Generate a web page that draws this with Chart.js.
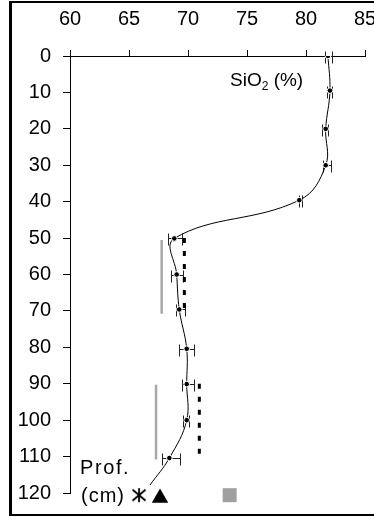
<!DOCTYPE html>
<html>
<head>
<meta charset="utf-8">
<script src="https://cdn.jsdelivr.net/npm/chart.js@4/dist/chart.umd.min.js"></script>
<style>
  html, body { margin: 0; padding: 0; background: #fff; overflow: hidden; }
  #wrap { position: relative; width: 374px; height: 517px; overflow: hidden; }
  #frame { position: absolute; left: 9px; top: 1px; width: 420px; height: 515px; box-sizing: border-box; border: 2px solid #000; border-left-width: 3px; }
  #chart { position: absolute; left: 0; top: 0; }
</style>
</head>
<body>
<div id="wrap">
  <div id="frame"></div>
  <canvas id="chart" width="400" height="517"></canvas>
</div>
<script>
// 剖面数据：深度 (cm) 与 SiO2 (%)
const depths = [0, 9.5, 20, 30, 39.6, 50.1, 60, 69.6, 80.4, 90.1, 100, 110.4];
const sio2 = [81.86, 82.03, 81.67, 81.67, 79.43, 68.84, 69.04, 69.26, 69.89, 69.89, 69.89, 68.42];
const errLow = [81.61, 81.81, 81.38, 81.47, 79.41, 68.33, 68.53, 68.98, 69.24, 69.47, 69.6, 67.77];
const errHigh = [82.17, 82.18, 81.84, 82.12, 79.69, 69.47, 69.6, 69.75, 70.53, 70.53, 70.1, 69.32];

// 曲线尾端
const tailX = [66.78];
const tailDepth = [117.8];

// 灰色竖线
const greyX = [67.77, 67.29];
const greyTop = [50.5, 90.3];
const greyBottom = [70.8, 110.8];

// 黑色虚线
const dashX = [69.69, 70.96];
const dashTop = [50, 90];
const dashBottom = [70, 109.5];

// 底部图例符号
const markerX = [65.85, 67.63, 73.53];
const markerDepth = [120.6, 121.4, 120.6];

// 刻度
const xTicks = [60, 65, 70, 75, 80, 85];
const yTicks = [0, 10, 20, 30, 40, 50, 60, 70, 80, 90, 100, 110, 120];

const FONT = "'Liberation Sans', Arial, sans-serif";

// 星号图形
function makeAsterisk() {
    const c = document.createElement('canvas');
    c.width = 16; c.height = 16;
    const g = c.getContext('2d');
    g.strokeStyle = '#000';
    g.lineWidth = 1.8;
    g.beginPath();
    g.moveTo(8, 1); g.lineTo(8, 15);
    g.moveTo(1.5, 2.5); g.lineTo(14.5, 13.5);
    g.moveTo(14.5, 2.5); g.lineTo(1.5, 13.5);
    g.stroke();
    return c;
}

// 误差棒
const errorBars = {
    id: 'errorBars',
    beforeDatasetsDraw(chart) {
        const { ctx, scales: { x, y } } = chart;
        ctx.save();
        ctx.strokeStyle = '#222';
        ctx.lineWidth = 1;
        depths.forEach((d, i) => {
            const py = Math.round(y.getPixelForValue(d)) + 0.5;
            const x1 = Math.round(x.getPixelForValue(errLow[i])) + 0.5;
            const x2 = Math.round(x.getPixelForValue(errHigh[i])) + 0.5;
            ctx.beginPath();
            ctx.moveTo(x1, py); ctx.lineTo(x2, py);
            ctx.moveTo(x1, py - 5); ctx.lineTo(x1, py + 7);
            ctx.moveTo(x2, py - 5); ctx.lineTo(x2, py + 7);
            ctx.stroke();
        });
        ctx.restore();
    }
};

// 文字标注
const labels = {
    id: 'labels',
    afterDraw(chart) {
        const ctx = chart.ctx;
        ctx.save();
        ctx.fillStyle = '#000';
        ctx.textBaseline = 'alphabetic';
        ctx.textAlign = 'left';
        ctx.font = '19px ' + FONT;
        let x = 230;
        ctx.fillText('SiO', x, 86);
        x += ctx.measureText('SiO').width;
        ctx.font = '12px ' + FONT;
        ctx.fillText('2', x, 90);
        x += ctx.measureText('2').width;
        ctx.font = '19px ' + FONT;
        ctx.fillText(' (%)', x, 86);

        ctx.font = '20px ' + FONT;
        ctx.letterSpacing = '1.6px';
        ctx.fillText('Prof.', 80, 474);
        ctx.letterSpacing = '1px';
        ctx.fillText('(cm)', 81, 502);
        ctx.restore();
    }
};

const toPoints = (xs, ys) => xs.map((v, i) => ({ x: v, y: ys[i] }));
const vline = (xv, a, b) => [{ x: xv, y: a }, { x: xv, y: b }];

const datasets = [
    {
        data: toPoints(sio2, depths),
        pointRadius: 2.8,
        pointBackgroundColor: '#000',
        pointBorderColor: '#fff',
        pointBorderWidth: 1,
        showLine: false
    },
    {
        data: toPoints(sio2.concat(tailX), depths.concat(tailDepth)),
        showLine: true,
        tension: 0.4,
        borderColor: '#000',
        borderWidth: 1,
        pointRadius: 0
    }
];

greyX.forEach((xv, i) => {
    datasets.push({
        data: vline(xv, greyTop[i], greyBottom[i]),
        showLine: true,
        borderColor: '#a8a8a8',
        borderWidth: 2.5,
        pointRadius: 0
    });
});

dashX.forEach((xv, i) => {
    datasets.push({
        data: vline(xv, dashTop[i], dashBottom[i]),
        showLine: true,
        borderColor: '#000',
        borderWidth: 3,
        borderDash: [5, 8],
        pointRadius: 0
    });
});

const markerStyles = [makeAsterisk(), 'triangle', 'rect'];
const markerColors = ['#000', '#000', '#a0a0a0'];
const markerSizes = [8, 9.5, 9.9];
markerX.forEach((xv, i) => {
    datasets.push({
        data: [{ x: xv, y: markerDepth[i] }],
        showLine: false,
        clip: false,
        pointStyle: markerStyles[i],
        pointRadius: markerSizes[i],
        pointBackgroundColor: markerColors[i],
        pointBorderColor: markerColors[i],
        pointBorderWidth: 0
    });
});

new Chart(document.getElementById('chart'), {
    type: 'scatter',
    data: { datasets },
    options: {
        responsive: false,
        animation: false,
        devicePixelRatio: 1,
        layout: { padding: { left: 0, right: 35, top: 0, bottom: 22 } },
        plugins: { legend: { display: false }, tooltip: { enabled: false } },
        scales: {
            x: {
                type: 'linear',
                position: 'top',
                min: 60,
                max: 85,
                afterFit: s => { s.height = 56; },
                afterBuildTicks: s => { s.ticks = xTicks.map(v => ({ value: v })); },
                ticks: { color: '#000', padding: 19, font: { family: FONT, size: 20 } },
                grid: { drawOnChartArea: false, drawTicks: true, tickLength: 6, color: '#000' },
                border: { display: true, color: '#000', width: 1 }
            },
            y: {
                type: 'linear',
                position: 'left',
                reverse: true,
                min: 0,
                max: 120,
                afterFit: s => { s.width = 70; },
                afterBuildTicks: s => { s.ticks = yTicks.map(v => ({ value: v })); },
                ticks: { color: '#000', padding: 12, font: { family: FONT, size: 20 } },
                grid: { drawOnChartArea: false, drawTicks: true, tickLength: 7, color: '#000' },
                border: { display: true, color: '#000', width: 1 }
            }
        }
    },
    plugins: [errorBars, labels]
});
</script>
</body>
</html>
